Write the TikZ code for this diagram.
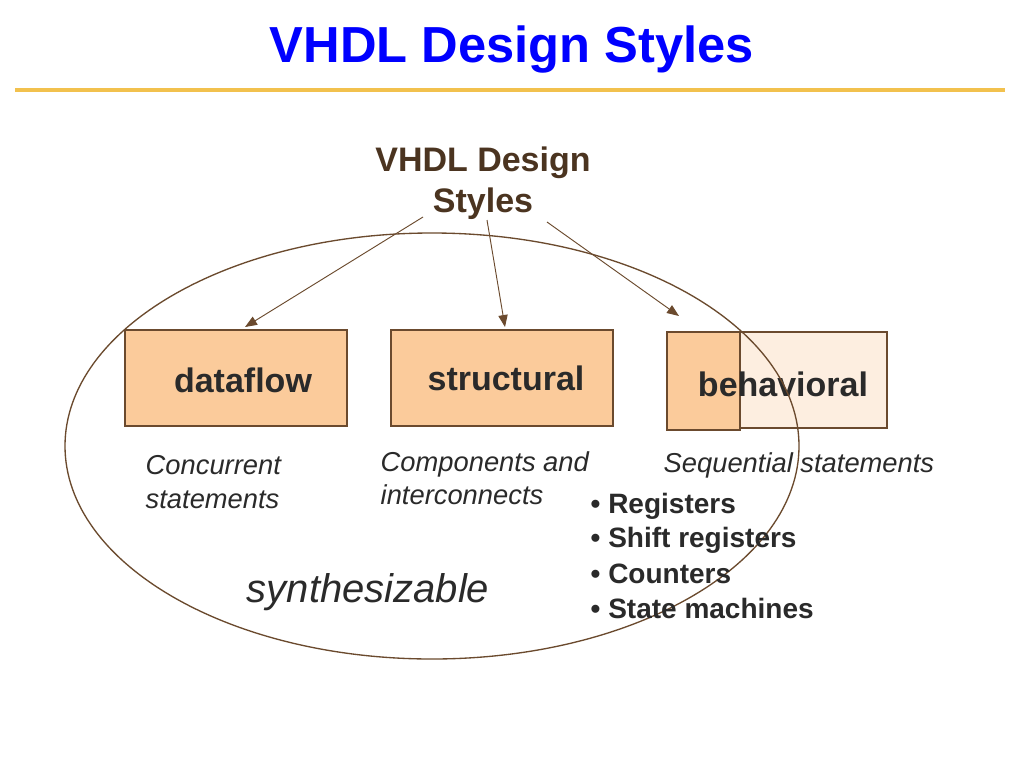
\documentclass[tikz,border=0pt]{standalone}
\usepackage{fontspec}
\setmainfont{Liberation Sans}
\usetikzlibrary{arrows.meta}
\definecolor{boxfill}{HTML}{FBCB9B}
\definecolor{boxlight}{HTML}{FDEEE0}
\definecolor{brownline}{HTML}{6B4A2E}
\definecolor{titleblue}{HTML}{0000FF}
\definecolor{gold}{HTML}{F2C14E}
\definecolor{txt}{HTML}{2A2A2A}
\begin{document}
\begin{tikzpicture}[x=0.75pt,y=-0.75pt,
  stylebox/.style={draw=brownline,fill=boxfill,line width=0.8pt},
  boxlabel/.style={font=\fontsize{25.5}{28}\selectfont\bfseries,text=txt},
  itlabel/.style={font=\fontsize{20.5}{25}\selectfont\itshape,text=txt,align=left,anchor=west},
  bullet/.style={font=\fontsize{21}{22}\selectfont\bfseries,text=txt,anchor=west},
  arr/.style={draw=brownline,line width=0.7pt,-{Triangle[length=9pt,width=7pt]}}]
\useasboundingbox[fill=white] (0,0) rectangle (1024,768);
\node[font=\fontsize{38}{42}\selectfont\bfseries,text=titleblue] (title) at (512,50) {VHDL Design Styles};
\draw[gold,line width=3pt] (15,90) -- (1005,90);
\node[font=\fontsize{25.5}{31}\selectfont\bfseries,text=brownline!70!black,align=center] (top) at (483,183) {VHDL Design\\Styles};
\draw[stylebox] (125,330) rectangle (347,426);
\node[boxlabel] (df) at (243,380) {dataflow};
\draw[stylebox] (391,330) rectangle (613,426);
\node[boxlabel] (st) at (506,378) {structural};
\draw[draw=brownline,fill=boxlight,line width=0.8pt] (740,332) rectangle (887,428);
\draw[stylebox] (667,332) rectangle (740,430);
\node[boxlabel] (bh) at (783,384) {behavioral};
\draw[brownline,line width=1pt] (432,446) ellipse [x radius=367, y radius=213];
\coordinate (s1) at (423,217); \coordinate (e1) at (245,327);
\coordinate (s2) at (487,220); \coordinate (e2) at (505,327);
\coordinate (s3) at (547,222); \coordinate (e3) at (679,316);
\draw[arr] (s1) -- (e1);
\draw[arr] (s2) -- (e2);
\draw[arr] (s3) -- (e3);
\node[itlabel] (c1) at (141,482) {Concurrent\\statements};
\node[itlabel] (c2) at (376,478) {Components and\\interconnects};
\node[itlabel] (c3) at (659,465) {Sequential statements};
\node[bullet] (b1) at (586,506) {• Registers};
\node[bullet] (b2) at (586,540) {• Shift registers};
\node[bullet] (b3) at (586,574) {• Counters};
\node[bullet] (b4) at (586,608) {• State machines};
\node[font=\fontsize{30}{33}\selectfont\itshape,text=txt] (syn) at (368,592) {synthesizable};
\end{tikzpicture}
\end{document}
